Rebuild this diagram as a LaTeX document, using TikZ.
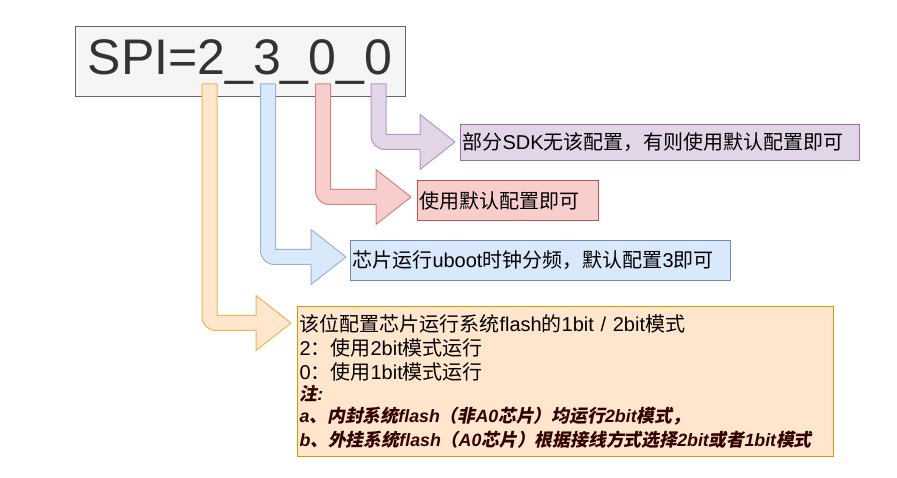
\documentclass[tikz,border=0pt]{standalone}
\usepackage{fontspec}
\setmainfont{Liberation Sans}[NFSSFamily=lat]
\newfontfamily\cjkfam{Noto Sans CJK SC}[NFSSFamily=cjk,
  ItalicFont={*}, ItalicFeatures={FakeSlant=0.2},
  BoldItalicFont={*/B}, BoldItalicFeatures={FakeSlant=0.2}]
\usetikzlibrary{positioning}

% latin in Liberation Sans, CJK in Noto Sans CJK SC
\XeTeXinterchartokenstate=1
\chardef\cjkcls=10
\newcount\cjkidx
\def\setcjkrange#1#2{\cjkidx=#1 \loop\XeTeXcharclass\cjkidx=\cjkcls \advance\cjkidx by 1 \ifnum\cjkidx<#2 \repeat}
\setcjkrange{"3000}{"3040}
\setcjkrange{"4E00}{"A000}
\setcjkrange{"FF00}{"FFF0}
\XeTeXinterchartoks 0 \cjkcls = {\fontfamily{cjk}\selectfont}
\XeTeXinterchartoks 4095 \cjkcls = {\fontfamily{cjk}\selectfont}
\XeTeXinterchartoks \cjkcls 0 = {\fontfamily{lat}\selectfont}
\XeTeXinterchartoks \cjkcls 4095 = {\fontfamily{lat}\selectfont}

\definecolor{titlefill}{HTML}{F5F5F5}
\definecolor{titleline}{HTML}{666666}
\definecolor{titletext}{HTML}{333333}
\definecolor{purplefill}{HTML}{E1D5E7}
\definecolor{purpleline}{HTML}{9673A6}
\definecolor{redfill}{HTML}{F8CECC}
\definecolor{redline}{HTML}{B85450}
\definecolor{bluefill}{HTML}{DAE8FC}
\definecolor{blueline}{HTML}{6C8EBF}
\definecolor{orangefill}{HTML}{FFE6CC}
\definecolor{orangeline}{HTML}{D79B00}
\definecolor{notered}{HTML}{330000}

% bent arrow: style, shaft x, top y, row y, head base x, tip x
\newcommand\bentarr[6]{%
  \draw[#1] (#2-7.5,#3) -- (#2-7.5,#4-6.5)
    .. controls (#2-7.5,#4+1.5) and (#2-1.5,#4+7.5) .. (#2+6.5,#4+7.5)
    -- (#5,#4+7.5) -- (#5,#4+27.5) -- (#6,#4) -- (#5,#4-27.5)
    -- (#5,#4-7.5) -- (#2+7.5,#4-7.5) -- (#2+7.5,#3) -- cycle;}

\tikzset{
  infobox/.style={draw, line width=1pt, anchor=north west, inner sep=2pt,
    align=left, font=\fontsize{20}{24}\selectfont},
  bentarrow/.style={line width=1pt, line join=round},
}

\begin{document}
\begin{tikzpicture}[x=1pt, y=-1pt]
  \useasboundingbox (0,0) rectangle (897,478);

  % register value
  \node (spi) [draw=titleline, fill=titlefill, line width=1pt, minimum width=330pt,
    minimum height=70pt, inner sep=0pt, text=titletext,
    font=\fontsize{50}{60}\selectfont] at (240,62) {SPI=2\_3\_0\_0};

  % one bent arrow per digit
  \bentarr{bentarrow, fill=purplefill, draw=purpleline!60!purplefill}{378.5}{84}{142}{420}{455}
  \bentarr{bentarrow, fill=redfill, draw=redline!60!redfill}{323}{84}{197}{376}{411}
  \bentarr{bentarrow, fill=bluefill, draw=blueline!60!bluefill}{268}{84}{257}{311}{346}
  \bentarr{bentarrow, fill=orangefill, draw=orangeline!60!orangefill}{209.5}{84}{323}{256}{291}

  % notes
  \node (sdkbox) [infobox, fill=purplefill, draw=purpleline, text width=395pt,
    minimum height=36pt] at (460,124) {部分SDK无该配置，有则使用默认配置即可};
  \node (defbox) [infobox, fill=redfill, draw=redline, text width=177pt,
    minimum height=40pt] at (417,180) {使用默认配置即可};
  \node (clkbox) [infobox, fill=bluefill, draw=blueline, text width=376pt,
    minimum height=40pt] at (350,240) {芯片运行uboot时钟分频，默认配置3即可};
  \node (flashbox) [infobox, fill=orangefill, draw=orangeline, text width=532pt,
    minimum height=150pt, font=\fontsize{20}{24}\selectfont] at (297,306)
    {该位配置芯片运行系统flash的1bit / 2bit模式\\
     2：使用2bit模式运行\\
     0：使用1bit模式运行\par
     \fontsize{17.8}{21.5}\selectfont\bfseries\itshape\color{notered}注:\\
     a、内封系统flash（非A0芯片）均运行2bit模式，\\
     b、外挂系统flash（A0芯片）根据接线方式选择2bit或者1bit模式};

\end{tikzpicture}
\end{document}
